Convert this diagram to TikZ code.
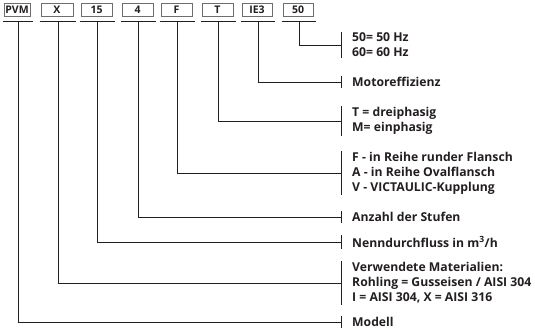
\documentclass[tikz,border=0pt]{standalone}
\usepackage{fontspec}
\setmainfont{Open Sans}
\usetikzlibrary{calc}
\definecolor{ink}{HTML}{231F20}
\definecolor{boxgrey}{HTML}{6E6E6E}
\tikzset{codebox/.style={draw=boxgrey, line width=0.9pt, text=ink, font=\fontsize{10.5}{11}\selectfont\bfseries, minimum height=13pt, inner sep=0pt},
  keytext/.style={anchor=west, align=left, text=ink, font=\fontsize{12.2}{15}\selectfont\bfseries, inner xsep=11pt, inner ysep=1pt},
  lead/.style={ink, line width=0.6pt}}

\begin{document}
\begin{tikzpicture}[x=1pt, y=-1pt]
\useasboundingbox[fill=white] (0,0) rectangle (535,332);
% code boxes along the top
\foreach \n/\t/\x/\w in {pvm/PVM/17/26, mat/X/57/32, flow/15/96.5/31, stg/4/137.5/31, flg/F/176.5/31, ph/T/217.5/31, eff/IE3/257/30, hz/50/298/30}{
  \node[codebox, minimum width=\w pt] (\n) at (\x,9.5) {\t};
  \draw[lead] ($(\n.south west)+(-1,5)$) -- ($(\n.south east)+(3,5)$);
  \coordinate (\n-u) at ($(\n.south)+(1,5)$);
}
% key texts on the right
\node[keytext] (hz-k)   at (341,45)  {50= 50 Hz\\60= 60 Hz};
\node[keytext] (eff-k)  at (341,82)  {Motoreffizienz};
\node[keytext] (ph-k)   at (341,121) {T = dreiphasig\\M= einphasig};
\node[keytext] (flg-k)  at (341,173) {F - in Reihe runder Flansch\\A - in Reihe Ovalflansch\\V - VICTAULIC-Kupplung};
\node[keytext] (stg-k)  at (341,217) {Anzahl der Stufen};
\node[keytext] (flow-k) at (341,242) {Nenndurchfluss in m\textsuperscript{3}/h};
\node[keytext] (mat-k)  at (341,283) {Verwendete Materialien:\\Rohling = Gusseisen / AISI 304\\I = AISI 304, X = AISI 316};
\node[keytext] (pvm-k)  at (341,322) {Modell};
% ticks and leaders
\foreach \n in {pvm, mat, flow, stg, flg, ph, eff, hz}{
  \draw[lead] (\n-k.north west) -- (\n-k.south west);
  \draw[lead] (\n-u) |- (\n-k.west);
}
\end{tikzpicture}
\end{document}
